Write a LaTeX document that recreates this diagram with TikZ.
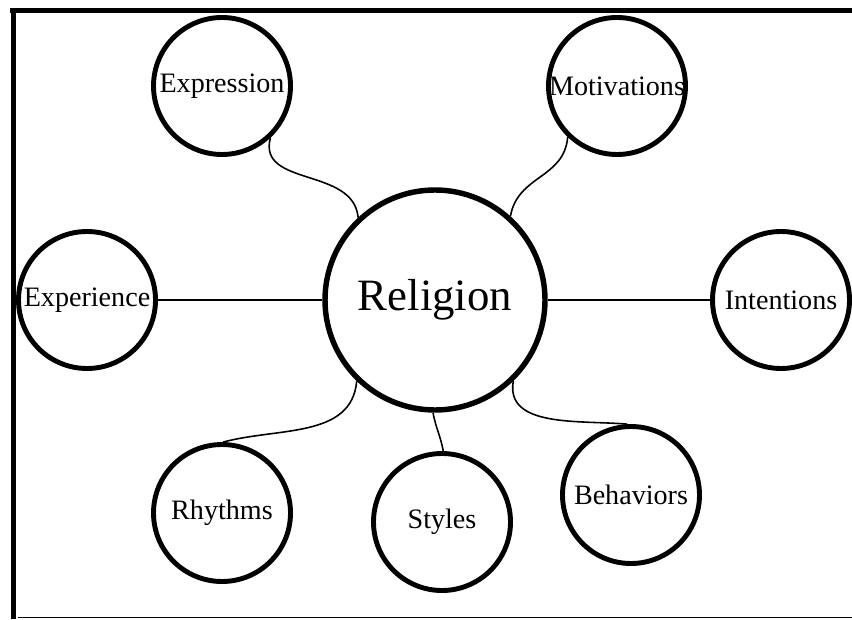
\documentclass[tikz,border=0pt]{standalone}
\usepackage{fontspec}
\setmainfont{Liberation Serif}
\usepackage{tikz}
\usetikzlibrary{arrows.meta,positioning,calc}

\begin{document}
\begin{tikzpicture}[
  topic/.style={draw,circle,fill=white,line width=2.8pt,minimum size=2.74cm,inner sep=0pt,font=\fontsize{16}{19}\selectfont},
  core/.style={draw,circle,fill=white,line width=3.1pt,minimum size=4.4cm,inner sep=0pt,font=\fontsize{25.5}{30}\selectfont},
  link/.style={line width=0.9pt}
]
\useasboundingbox (0,0) rectangle (17.04,12.38);
% Frame (top, left, bottom)
\draw[line width=3pt] (0.2,12.17) -- (17.04,12.17);
\draw[line width=3pt] (0.27,0) -- (0.27,12.22);
\draw[line width=0.6pt] (0.36,0.03) -- (17.04,0.03);
% Centre
\node[core] (rel) at (8.70,6.38) {Religion};
% Top row
\node[topic] (expr) at (4.44,10.66) {Expression};
\node[topic] (motiv) at (12.34,10.66) {Motivations};
% Middle row
\node[topic] (exper) at (1.74,6.38) {Experience};
\node[topic] (inten) at (15.62,6.38) {Intentions};
% Bottom row
\node[topic] (rhy) at (4.44,2.12) {Rhythms};
\node[topic] (sty) at (8.84,1.94) {Styles};
\node[topic] (beh) at (12.62,2.48) {Behaviors};
% Links
\draw[link] (exper) -- (rel); \draw[link] (rel) -- (inten);
\draw[link] (expr.-47) to[out=-105,in=95,looseness=1.1] (rel.133);
\draw[link] (motiv.-134) to[out=-95,in=80,looseness=1.1] (rel.48);
\draw[link] (rel.-134) to[out=-95,in=15] (rhy.89);
\draw[link] (rel.-91) to[out=-80,in=100] (sty.89);
\draw[link] (rel.-46) to[out=-100,in=175] (beh.93);
\end{tikzpicture}
\end{document}
